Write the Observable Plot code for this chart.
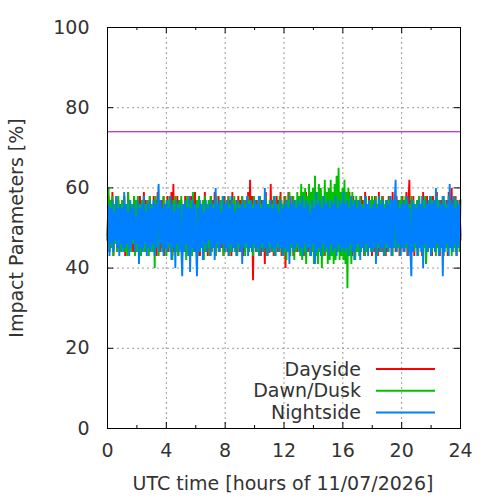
<!DOCTYPE html>
<html><head><meta charset="utf-8">
<script src="https://cdn.jsdelivr.net/npm/d3@7"></script>
<script src="https://cdn.jsdelivr.net/npm/@observablehq/plot@0.6"></script>
<style>body{margin:0;background:#fff;} svg{display:block;}</style>
</head><body><div id="chart"></div>
<script>
const seriesNames = ["Dayside", "Dawn/Dusk", "Nightside"];
const seriesColors = ["#ff0000", "#00c000", "#0080ff"];
const xTicks = [0, 4, 8, 12, 16, 20, 24];
const xMinorTicks = [2, 6, 10, 14, 18, 22];
const yTicks = [0, 20, 40, 60, 80, 100];
const threshold = 74;
const xTitle = "UTC time [hours of 11/07/2026]";
const yTitle = "Impact Parameters [%]";

// one value every 4 minutes, one row per hour
const dayside = [
48,58,44,57,45,59,43,56,46,58,44,57,45,56,44,
57,45,58,43,56,44,59,45,57,46,55,44,58,45,56,
44,57,46,58,43,56,45,59,44,57,46,55,44,58,45,
56,44,58,45,57,43,59,46,55,44,57,45,58,43,56,
45,58,44,57,46,59,43,61,44,56,45,58,43,57,46,
57,43,56,45,58,44,57,46,55,43,58,45,56,44,59,
44,57,46,58,43,56,45,57,44,59,46,55,43,57,45,
58,44,57,45,59,43,56,46,58,44,57,45,55,43,58,
45,56,44,58,46,57,43,59,45,56,44,57,46,58,44,
57,45,58,43,56,44,57,46,59,44,62,45,58,37,57,
46,57,45,56,44,58,43,57,46,55,41,59,45,56,44,
44,61,45,57,43,56,46,58,44,57,45,59,43,56,46,
58,40,57,45,59,44,56,46,58,43,57,45,56,44,58,
45,57,44,58,46,56,43,59,45,57,44,58,46,55,44,
57,45,58,43,56,44,59,46,57,45,56,43,58,44,57,
44,58,46,57,43,56,45,59,44,57,46,58,43,56,45,
58,43,57,45,56,44,59,46,57,43,58,45,56,44,57,
45,56,44,58,46,57,43,59,45,56,44,58,46,57,43,
57,44,58,45,56,43,59,46,57,44,58,45,56,43,57,
44,58,46,57,43,59,45,56,44,58,46,57,43,56,45,
58,44,57,45,59,43,56,62,44,57,46,58,43,56,45,
57,44,58,46,56,43,59,45,57,41,58,44,56,46,57,
43,58,45,57,44,59,46,56,43,57,45,58,44,56,46,
57,43,59,45,56,60,44,57,46,58,43,56,45,57,47
];
const dawnDusk = [
47,60,44,57,45,58,43,56,46,57,44,58,45,56,44,
57,45,58,44,56,43,59,45,57,44,56,46,58,43,57,
44,58,45,56,43,57,46,58,44,56,45,57,43,58,45,
56,44,57,40,58,45,56,43,57,46,55,44,58,45,56,
43,57,45,58,44,56,42,57,45,58,44,56,43,57,45,
58,44,56,45,57,42,58,44,56,45,57,43,59,44,56,
45,57,43,58,44,56,45,57,42,58,44,56,45,57,43,
58,44,56,45,57,43,58,45,56,44,57,46,58,43,56,
44,57,45,58,43,56,44,57,45,58,44,56,43,57,45,
56,44,58,45,57,43,56,45,58,44,57,45,56,43,58,
45,56,44,57,43,58,45,56,44,57,45,58,43,56,44,
57,45,56,44,58,43,57,45,56,44,58,45,57,43,56,
44,58,42,57,45,59,43,56,45,58,42,57,44,59,45,
58,43,61,42,59,44,60,41,58,45,61,43,59,44,60,
41,63,43,59,41,61,44,60,40,58,43,62,44,59,41,
60,42,62,43,59,41,61,42,63,44,65,42,59,43,60,
42,62,41,59,35,60,43,58,41,59,44,57,42,58,44,
57,43,58,44,56,45,57,43,58,44,56,45,57,44,58,
44,57,45,58,43,56,45,57,44,58,45,56,43,57,45,
57,44,58,45,56,43,57,45,58,44,56,45,57,43,58,
45,56,44,58,45,57,43,56,44,58,45,57,44,56,45,
57,43,58,45,56,44,57,45,58,41,56,44,57,45,58,
44,57,45,56,43,58,45,57,44,56,45,58,43,57,45,
56,44,58,45,57,43,56,45,58,44,57,45,56,44,57
];
const nightside = [
47,56,43,55,46,57,44,54,47,58,45,55,43,56,46,
55,44,59,45,56,46,54,43,57,45,55,47,56,44,53,
46,57,41,55,45,56,44,58,46,54,43,56,45,57,44,
55,46,57,43,56,45,54,61,44,57,46,55,43,56,45,
57,44,55,46,58,42,56,45,54,40,57,46,55,44,56,
45,38,56,44,57,46,55,43,58,39,55,45,57,44,56,
46,38,55,44,57,45,56,42,54,46,57,44,55,47,56,
43,57,45,55,42,60,46,56,44,57,45,54,46,58,44,
56,45,57,43,55,46,58,44,56,45,54,43,57,46,55,
44,56,41,57,45,55,46,58,43,56,45,57,44,55,46,
57,44,56,45,58,43,55,46,57,44,60,45,56,43,55,
46,57,44,55,45,58,43,56,46,54,44,57,45,55,43,
56,45,57,44,55,41,58,46,56,44,57,45,55,46,57,
44,56,45,58,43,55,46,57,44,56,45,54,43,57,46,
55,41,59,44,56,45,57,43,55,46,58,44,56,45,57,
43,55,46,57,44,56,45,58,43,55,46,57,44,56,45,
59,44,56,45,57,43,55,46,58,44,56,42,57,45,55,
46,57,42,56,45,55,44,58,46,56,43,57,45,55,44,
56,45,57,41,55,46,58,44,56,45,57,43,55,46,57,
44,56,45,58,43,57,45,56,62,44,57,46,55,43,56,
45,57,44,56,46,58,43,55,45,38,57,44,56,46,55,
43,57,45,56,44,58,40,55,46,57,44,56,45,58,43,
56,45,57,44,60,46,55,43,57,45,56,38,58,44,55,
46,57,43,61,45,56,44,58,46,55,43,57,45,56,48
];

const seriesValues = [dayside, dawnDusk, nightside];
const tables = seriesValues.map(vals =>
  vals.map((v, i) => ({time: i * 24 / (vals.length - 1), value: v})));

const W = 500, H = 500, mL = 107, mR = 40, mT = 27, mB = 72;
const pw = W - mL - mR, ph = H - mT - mB;
const FS = 19;

const plot = Plot.plot({
  width: W, height: H,
  marginLeft: mL, marginRight: mR, marginTop: mT, marginBottom: mB,
  style: {fontFamily: "DejaVu Sans", fontSize: FS + "px", color: "#333", background: "#fff"},
  x: {domain: [0, 24]},
  y: {domain: [0, 100]},
  marks: [
    Plot.gridX(xTicks.slice(1, -1), {stroke: "#999", strokeOpacity: 1, strokeDasharray: "2,3"}),
    Plot.gridY(yTicks.slice(1, -1), {stroke: "#999", strokeOpacity: 1, strokeDasharray: "2,3"}),
    Plot.ruleY([threshold], {stroke: "#9400d3", strokeWidth: 1}),
    ...tables.map((t, k) => Plot.line(t, {x: "time", y: "value", stroke: seriesColors[k], strokeWidth: 1.9, strokeLinejoin: "miter"})),
    Plot.frame({stroke: "black", strokeWidth: 1}),
    Plot.tickX(xTicks, {x: d => d, stroke: "black", insetTop: ph - 6}),
    Plot.tickX(xTicks, {x: d => d, stroke: "black", insetBottom: ph - 6}),
    Plot.tickX(xMinorTicks, {x: d => d, stroke: "black", insetTop: ph - 3}),
    Plot.tickX(xMinorTicks, {x: d => d, stroke: "black", insetBottom: ph - 3}),
    Plot.tickY(yTicks, {y: d => d, stroke: "black", insetRight: pw - 6}),
    Plot.tickY(yTicks, {y: d => d, stroke: "black", insetLeft: pw - 6}),
    Plot.axisX(xTicks, {tickSize: 0, tickPadding: 14.5, label: null, fill: "#333"}),
    Plot.axisY(yTicks, {tickSize: 0, tickPadding: 18, label: null, fill: "#333"})
  ]
});

document.getElementById("chart").appendChild(plot);
const svg = d3.select(plot);
const font = "DejaVu Sans";
svg.append("text").attr("x", mL + pw / 2 - 0.5).attr("y", 490)
  .attr("text-anchor", "middle").attr("font-family", font).attr("font-size", FS).attr("fill", "#333")
  .text(xTitle);
svg.append("text").attr("transform", "translate(23,228) rotate(-90)")
  .attr("text-anchor", "middle").attr("font-family", font).attr("font-size", FS).attr("fill", "#333")
  .text(yTitle);
const lg = svg.append("g");
seriesNames.forEach((name, k) => {
  const y = 369 + k * 21.7;
  lg.append("text").attr("x", 361).attr("y", y).attr("dy", "0.35em")
    .attr("text-anchor", "end").attr("font-family", font).attr("font-size", FS).attr("fill", "#333")
    .text(name);
  lg.append("line").attr("x1", 376).attr("x2", 435).attr("y1", y).attr("y2", y)
    .attr("stroke", seriesColors[k]).attr("stroke-width", 2);
});
</script>
</body></html>
